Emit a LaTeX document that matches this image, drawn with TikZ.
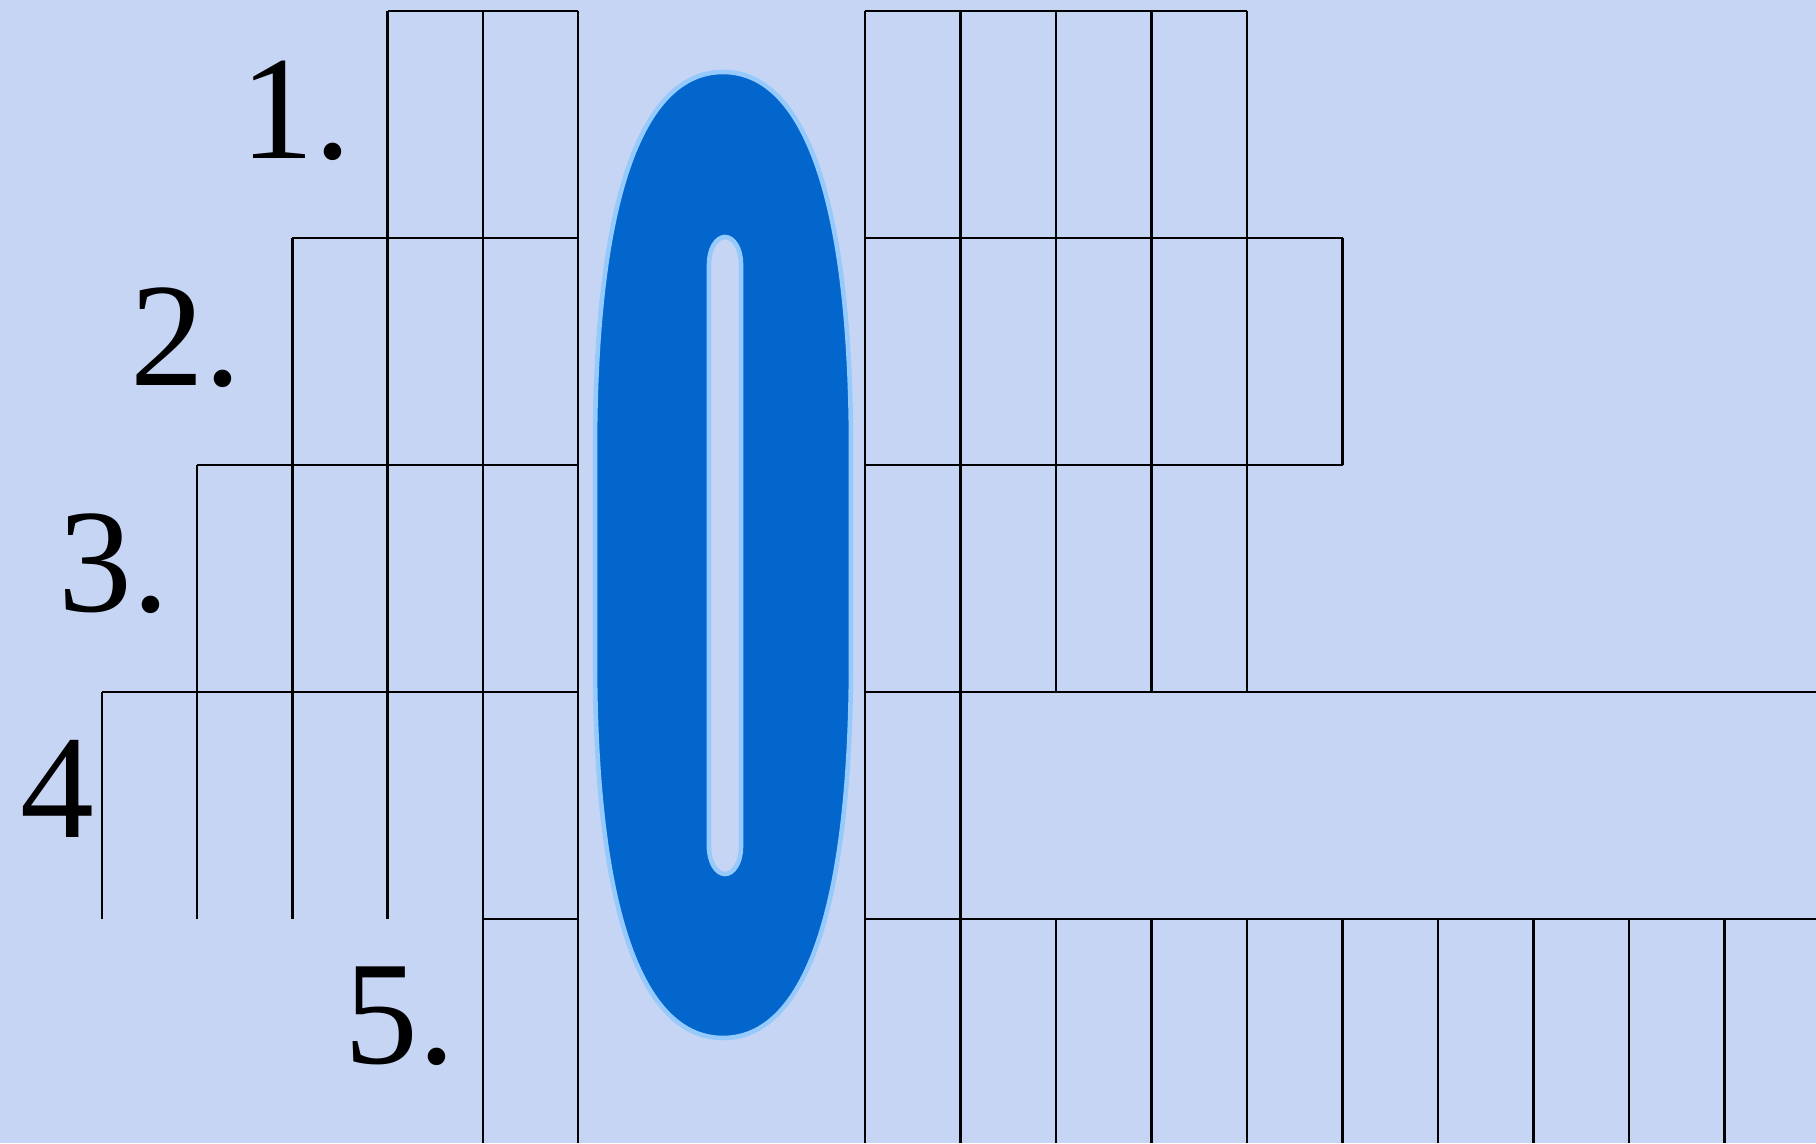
\documentclass[tikz,border=0pt]{standalone}
\usepackage{fontspec}
\setmainfont{Liberation Serif}
\usepackage{tikz}

\definecolor{paper}{RGB}{198,213,244}
\definecolor{zeroblue}{RGB}{2,102,204}
\definecolor{zeroedge}{RGB}{150,202,252}

\begin{document}
\begin{tikzpicture}

\tikzset{
  cellline/.style={
    black,
    line width=0.7pt
  },
  rownum/.style={
    anchor=base east,
    inner sep=0pt,
    font=\fontsize{42}{42}\selectfont
  },
  bigzero/.style={
    fill=zeroblue,
    draw=zeroedge,
    line width=1.3pt,
    even odd rule
  }
}

% Background
\useasboundingbox (0,0) rectangle (18.16,11.43);
\fill[paper] (0,0) rectangle (18.16,11.43);

% Nodes row numbers
\node[rownum] (n1) at (3.52, 9.843) {1.};
\node[rownum] (n2) at (2.42, 7.573) {2.};
\node[rownum] (n3) at (1.70, 5.315) {3.};
\node[rownum] (n4) at (0.95, 3.056) {4};
\node[rownum] (n5) at (4.56, 0.798) {5.};

% Left cells, horizontals
\draw[cellline] (3.876,11.32) -- (5.78,11.32);
\draw[cellline] (2.924,9.05)  -- (5.78,9.05);
\draw[cellline] (1.972,6.78)  -- (5.78,6.78);
\draw[cellline] (1.02,4.51)   -- (5.78,4.51);
\draw[cellline] (4.828,2.24)  -- (5.78,2.24);

% Left cells, verticals
\draw[cellline] (1.02,4.51)   -- (1.02,2.24);
\draw[cellline] (1.972,6.78)  -- (1.972,2.24);
\draw[cellline] (2.924,9.05)  -- (2.924,2.24);
\draw[cellline] (3.876,11.32) -- (3.876,2.24);
\draw[cellline] (4.828,11.32) -- (4.828,0);
\draw[cellline] (5.78,11.32)  -- (5.78,0);

% Right cells, horizontals
\draw[cellline] (8.65,11.32) -- (12.47,11.32);
\draw[cellline] (8.65,9.05)  -- (13.425,9.05);
\draw[cellline] (8.65,6.78)  -- (13.425,6.78);
\draw[cellline] (8.65,4.51)  -- (18.16,4.51);
\draw[cellline] (8.65,2.24)  -- (18.16,2.24);

% Right cells, verticals
\draw[cellline] (8.65,11.32)   -- (8.65,0);
\draw[cellline] (9.605,11.32)  -- (9.605,0);
\draw[cellline] (10.56,11.32)  -- (10.56,4.51);
\draw[cellline] (11.515,11.32) -- (11.515,4.51);
\draw[cellline] (12.47,11.32)  -- (12.47,4.51);
\draw[cellline] (13.425,9.05)  -- (13.425,6.78);
\foreach \x in {10.56,11.515,12.47,13.425,14.38,15.335,16.29,17.245}
  \draw[cellline] (\x,2.24) -- (\x,0);

% Key letter
\path[bigzero]
  (5.95,4.83) -- (5.95,6.93)
  .. controls (5.95,9.39) and (6.40,10.71) .. (7.23,10.71)
  .. controls (8.06,10.71) and (8.51,9.39) .. (8.51,6.93)
  -- (8.51,4.83)
  .. controls (8.51,2.37) and (8.06,1.05) .. (7.23,1.05)
  .. controls (6.40,1.05) and (5.95,2.37) .. (5.95,4.83)
  -- cycle
  (7.09,2.96) -- (7.09,8.79)
  arc[start angle=180, end angle=0, x radius=0.16, y radius=0.27]
  -- (7.41,2.96)
  arc[start angle=360, end angle=180, x radius=0.16, y radius=0.27]
  -- cycle;

\end{tikzpicture}
\end{document}
